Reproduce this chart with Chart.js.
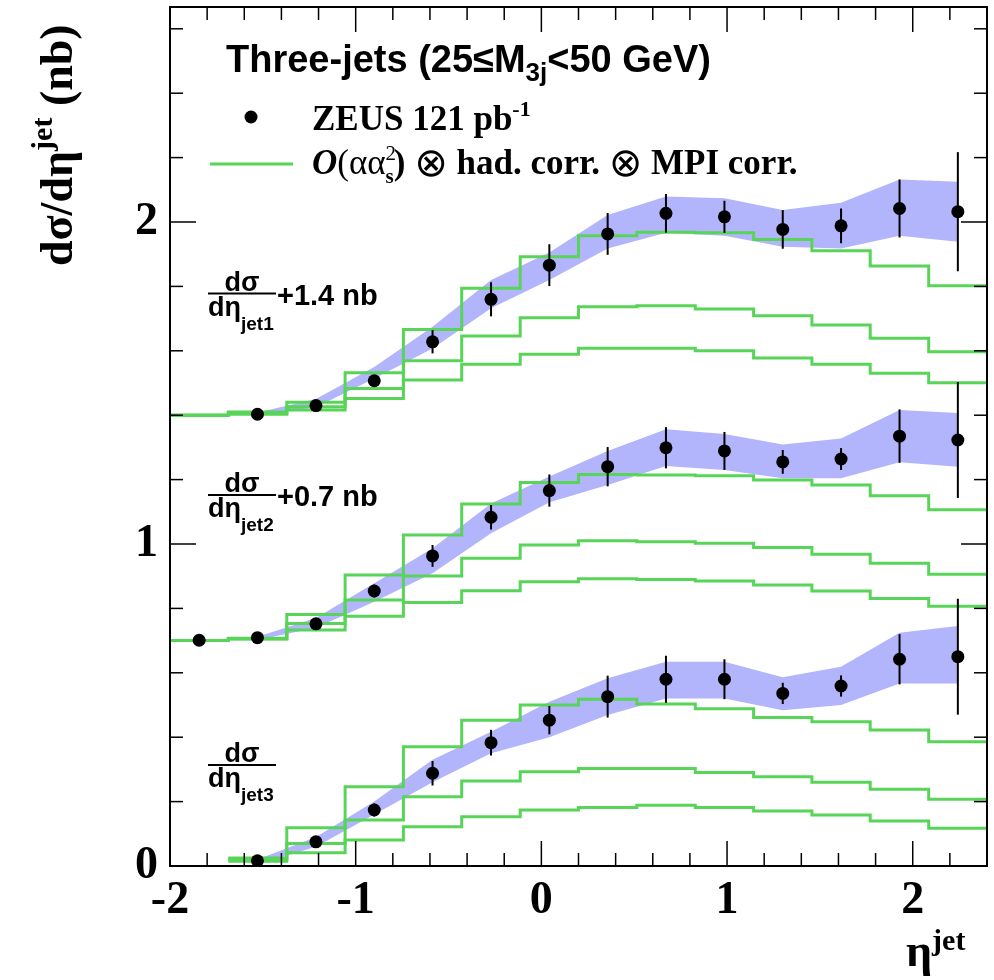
<!DOCTYPE html>
<html>
<head>
<meta charset="utf-8">
<title>Three-jets d&sigma;/d&eta;</title>
<script src="https://cdn.jsdelivr.net/npm/chart.js@4.4.1/dist/chart.umd.min.js"></script>
<style>
  html, body { margin: 0; padding: 0; background: #fff; }
  #wrap { width: 994px; height: 980px; }
</style>
</head>
<body>
<div id="wrap"><canvas id="chart" width="994" height="980"></canvas></div>
<script>
// 14 eta bins between -2 and 2.4
var etaEdges = [-2, -1.686, -1.371, -1.057, -0.743, -0.429, -0.114, 0.2, 0.514, 0.829, 1.143, 1.457, 1.771, 2.086, 2.4];
var etaCentres = [-1.843, -1.529, -1.214, -0.9, -0.586, -0.271, 0.043, 0.357, 0.671, 0.986, 1.3, 1.614, 1.929, 2.243];

var xMajorTicks = [-2, -1, 0, 1, 2];
var xTickLabels = ['-2', '-1', '0', '1', '2'];
var yMajorTicks = [0, 1, 2];
var yTickLabels = ['0', '1', '2'];

// shifts added to each jet before plotting (nb)
var jetOffsets = [1.4, 0.7, 0];

// ZEUS data, without the shift
var jet1Data = [null, 0.003, 0.030, 0.107, 0.228, 0.360, 0.466, 0.563, 0.627, 0.616, 0.577, 0.588, 0.642, 0.632];
var jet1Err  = [null, 0.004, 0.006, 0.012, 0.036, 0.053, 0.065, 0.065, 0.060, 0.050, 0.060, 0.054, 0.090, 0.185];
var jet2Data = [0.001, 0.009, 0.052, 0.154, 0.263, 0.383, 0.466, 0.540, 0.599, 0.589, 0.555, 0.564, 0.635, 0.623];
var jet2Err  = [0.003, 0.004, 0.008, 0.020, 0.034, 0.038, 0.050, 0.061, 0.064, 0.059, 0.037, 0.034, 0.083, 0.180];
var jet3Data = [null, 0.016, 0.075, 0.174, 0.288, 0.383, 0.453, 0.526, 0.580, 0.580, 0.536, 0.559, 0.642, 0.650];
var jet3Err  = [null, 0.003, 0.008, 0.020, 0.038, 0.040, 0.044, 0.065, 0.073, 0.062, 0.033, 0.033, 0.078, 0.180];

// shaded band (upper / lower edge)
var jet1BandHi = [null, 0.008, 0.050, 0.150, 0.275, 0.420, 0.505, 0.622, 0.679, 0.674, 0.637, 0.660, 0.732, 0.725];
var jet1BandLo = [null, 0.001, 0.025, 0.114, 0.207, 0.332, 0.420, 0.518, 0.567, 0.557, 0.523, 0.518, 0.557, 0.539];
var jet2BandHi = [null, 0.012, 0.070, 0.178, 0.287, 0.426, 0.510, 0.589, 0.656, 0.642, 0.609, 0.628, 0.716, 0.707];
var jet2BandLo = [null, 0.002, 0.040, 0.121, 0.209, 0.333, 0.430, 0.483, 0.542, 0.530, 0.504, 0.504, 0.554, 0.540];
var jet3BandHi = [null, 0.020, 0.090, 0.200, 0.330, 0.417, 0.510, 0.583, 0.634, 0.634, 0.586, 0.619, 0.724, 0.745];
var jet3BandLo = [null, 0.005, 0.060, 0.160, 0.260, 0.350, 0.400, 0.469, 0.520, 0.520, 0.484, 0.500, 0.567, 0.567];

// O(alpha alpha_s^2) histograms, three per jet
var jet1Calc  = [0, 0.010, 0.040, 0.132, 0.266, 0.394, 0.492, 0.557, 0.568, 0.567, 0.546, 0.511, 0.463, 0.402];
var jet1CalcB = [0, 0.005, 0.026, 0.083, 0.169, 0.246, 0.303, 0.337, 0.340, 0.330, 0.309, 0.280, 0.239, 0.197];
var jet1CalcC = [0, 0.003, 0.016, 0.052, 0.109, 0.158, 0.189, 0.208, 0.208, 0.200, 0.178, 0.158, 0.130, 0.101];
var jet2Calc  = [0, 0.007, 0.081, 0.204, 0.328, 0.424, 0.491, 0.516, 0.514, 0.512, 0.499, 0.483, 0.450, 0.406];
var jet2CalcB = [0, 0.006, 0.053, 0.126, 0.201, 0.256, 0.297, 0.310, 0.307, 0.302, 0.289, 0.268, 0.240, 0.206];
var jet2CalcC = [0, 0.005, 0.033, 0.076, 0.118, 0.155, 0.183, 0.192, 0.190, 0.185, 0.173, 0.154, 0.131, 0.107];
var jet3Calc  = [null, 0.025, 0.119, 0.246, 0.370, 0.453, 0.500, 0.518, 0.503, 0.488, 0.461, 0.448, 0.422, 0.386];
var jet3CalcB = [null, 0.020, 0.070, 0.143, 0.215, 0.264, 0.293, 0.303, 0.303, 0.290, 0.277, 0.260, 0.238, 0.207];
var jet3CalcC = [null, 0.015, 0.041, 0.081, 0.122, 0.153, 0.174, 0.182, 0.189, 0.182, 0.171, 0.158, 0.140, 0.117];

(function () {
  'use strict';

  var SERIF = "'Liberation Serif', 'DejaVu Serif', serif";
  var SANS = "'Liberation Sans', 'DejaVu Sans', sans-serif";
  var GREEN = 'rgb(88, 212, 88)';
  var BAND = 'rgb(178, 180, 252)';

  var jets = [
    { data: jet1Data, err: jet1Err, hi: jet1BandHi, lo: jet1BandLo, calc: [jet1Calc, jet1CalcB, jet1CalcC] },
    { data: jet2Data, err: jet2Err, hi: jet2BandHi, lo: jet2BandLo, calc: [jet2Calc, jet2CalcB, jet2CalcC] },
    { data: jet3Data, err: jet3Err, hi: jet3BandHi, lo: jet3BandLo, calc: [jet3Calc, jet3CalcB, jet3CalcC] }
  ];

  function atCentres(values, off) {
    var pts = [];
    values.forEach(function (v, i) {
      if (v !== null) {
        pts.push({ x: etaCentres[i], y: v + off });
      }
    });
    return pts;
  }

  // histogram outline: one point per left edge, plus the last right edge
  function histo(values, off) {
    var pts = [];
    var last = null;
    values.forEach(function (v, i) {
      if (v !== null) {
        pts.push({ x: etaEdges[i], y: v + off });
        last = v;
      }
    });
    pts.push({ x: etaEdges[etaEdges.length - 1], y: last + off });
    return pts;
  }

  var datasets = [];
  jets.forEach(function (jet, j) {
    var off = jetOffsets[j];
    datasets.push({
      data: atCentres(jet.hi, off), showLine: true, fill: '+1', tension: 0,
      backgroundColor: BAND, borderColor: 'rgba(0,0,0,0)', borderWidth: 0,
      pointRadius: 0, order: 3, clip: 0
    });
    datasets.push({
      data: atCentres(jet.lo, off), showLine: true, fill: false, tension: 0,
      borderColor: 'rgba(0,0,0,0)', borderWidth: 0, pointRadius: 0, order: 3, clip: 0
    });
  });
  jets.forEach(function (jet, j) {
    jet.calc.forEach(function (values) {
      datasets.push({
        data: histo(values, jetOffsets[j]), showLine: true, stepped: true, fill: false,
        borderColor: GREEN, borderWidth: 3, borderJoinStyle: 'miter', borderCapStyle: 'butt',
        pointRadius: 0, order: 2, clip: 0
      });
    });
  });
  jets.forEach(function (jet, j) {
    datasets.push({
      data: atCentres(jet.data, jetOffsets[j]), showLine: false,
      backgroundColor: '#000', borderWidth: 0, pointRadius: 6.5, order: 1, clip: 0
    });
  });

  function majorLabel(majors, labels) {
    return function (value) {
      for (var i = 0; i < majors.length; i++) {
        if (Math.abs(value - majors[i]) < 1e-6) {
          return labels[i];
        }
      }
      return '';
    };
  }

  function drawRuns(ctx, x, y, parts) {
    parts.forEach(function (p) {
      ctx.font = p.font;
      ctx.fillText(p.text, x, y + (p.dy || 0));
      if (!p.keep) {
        x += ctx.measureText(p.text).width + (p.gap || 0);
      }
    });
    return x;
  }

  function line(ctx, x1, y1, x2, y2) {
    ctx.beginPath();
    ctx.moveTo(x1, y1);
    ctx.lineTo(x2, y2);
    ctx.stroke();
  }

  var errorBars = {
    id: 'errorBars',
    afterDatasetsDraw: function (chart) {
      var ctx = chart.ctx;
      var xs = chart.scales.x;
      var ys = chart.scales.y;
      ctx.save();
      ctx.strokeStyle = '#000';
      ctx.lineWidth = 2;
      jets.forEach(function (jet, j) {
        jet.data.forEach(function (v, i) {
          if (v === null || !jet.err[i]) {
            return;
          }
          var px = xs.getPixelForValue(etaCentres[i]);
          line(ctx, px, ys.getPixelForValue(v + jetOffsets[j] - jet.err[i]),
            px, ys.getPixelForValue(v + jetOffsets[j] + jet.err[i]));
        });
      });
      ctx.restore();
    }
  };

  function fraction(ctx, lineY, jetName, shift) {
    ctx.textAlign = 'center';
    ctx.font = 'bold 27px ' + SANS;
    ctx.fillText('d\u03c3', 242, lineY - 3);
    ctx.textAlign = 'left';
    ctx.lineWidth = 2;
    line(ctx, 208, lineY, 276, lineY);
    drawRuns(ctx, 208, lineY + 22, [
      { text: 'd\u03b7', font: 'bold 27px ' + SANS },
      { text: jetName, font: 'bold 19px ' + SANS, dy: 14 }
    ]);
    if (shift) {
      ctx.font = 'bold 29px ' + SANS;
      ctx.fillText(shift, 277, lineY + 11);
    }
  }

  var decorations = {
    id: 'decorations',
    afterDraw: function (chart) {
      var ctx = chart.ctx;
      var a = chart.chartArea;
      var xs = chart.scales.x;
      var ys = chart.scales.y;
      var k, v, p, len;
      ctx.save();
      ctx.strokeStyle = '#000';
      ctx.fillStyle = '#000';

      // ticks on all four sides, pointing inwards
      ctx.lineWidth = 1.5;
      for (k = -10; k <= 12; k++) {
        v = k / 5;
        p = xs.getPixelForValue(v);
        len = k % 5 === 0 ? 25 : 13;
        line(ctx, p, a.bottom, p, a.bottom - len);
        line(ctx, p, a.top, p, a.top + len);
      }
      for (k = 0; k <= 13; k++) {
        v = k / 5;
        p = ys.getPixelForValue(v);
        len = k % 5 === 0 ? 26 : 13;
        line(ctx, a.left, p, a.left + len, p);
        line(ctx, a.right, p, a.right - len, p);
      }
      ctx.lineWidth = 2;
      ctx.strokeRect(a.left, a.top, a.right - a.left, a.bottom - a.top);

      // title and legend
      ctx.textAlign = 'left';
      ctx.textBaseline = 'alphabetic';
      drawRuns(ctx, 226, 72, [
        { text: 'Three-jets (25\u2264M', font: 'bold 38px ' + SANS },
        { text: '3j', font: 'bold 26px ' + SANS, dy: 9 },
        { text: '<50 GeV)', font: 'bold 38px ' + SANS }
      ]);
      ctx.beginPath();
      ctx.arc(251, 117, 6.5, 0, Math.PI * 2);
      ctx.fill();
      drawRuns(ctx, 312, 130, [
        { text: 'ZEUS 121 pb', font: 'bold 35px ' + SERIF },
        { text: '-1', font: 'bold 22px ' + SERIF, dy: -14 }
      ]);
      ctx.strokeStyle = GREEN;
      ctx.lineWidth = 3;
      line(ctx, 210, 164, 293, 164);
      ctx.strokeStyle = '#000';
      drawRuns(ctx, 312, 174, [
        { text: 'O', font: 'italic bold 35px ' + SERIF },
        { text: '(\u03b1\u03b1', font: '35px ' + SERIF },
        { text: '2', font: '21px ' + SERIF, dy: -14, keep: true },
        { text: 's', font: 'bold 21px ' + SERIF, dy: 9 },
        { text: ') ', font: 'bold 35px ' + SERIF },
        { text: '\u2297', font: "40px 'DejaVu Sans', sans-serif", dy: 2 },
        { text: ' had. corr. ', font: 'bold 35px ' + SERIF },
        { text: '\u2297', font: "40px 'DejaVu Sans', sans-serif", dy: 2 },
        { text: ' MPI corr.', font: 'bold 35px ' + SERIF }
      ]);

      // shift annotations
      fraction(ctx, 293.5, 'jet1', '+1.4 nb');
      fraction(ctx, 495, 'jet2', '+0.7 nb');
      fraction(ctx, 765, 'jet3', null);

      // axis titles
      drawRuns(ctx, 906, 966, [
        { text: '\u03b7', font: 'bold 46px ' + SERIF },
        { text: 'jet', font: 'bold 30px ' + SERIF, dy: -16 }
      ]);
      ctx.save();
      ctx.translate(72, 266);
      ctx.rotate(-Math.PI / 2);
      drawRuns(ctx, 0, 0, [
        { text: 'd\u03c3/d\u03b7', font: 'bold 46px ' + SERIF },
        { text: 'jet', font: 'bold 30px ' + SERIF, dy: -20 },
        { text: ' (nb)', font: 'bold 46px ' + SERIF }
      ]);
      ctx.restore();
      ctx.restore();
    }
  };

  var tickFont = { family: SERIF, size: 46, weight: 'bold' };

  new Chart(document.getElementById('chart'), {
    type: 'scatter',
    data: { datasets: datasets },
    options: {
      responsive: false,
      animation: false,
      devicePixelRatio: 1,
      layout: { padding: { left: 0, right: 7, top: 7, bottom: 0 } },
      plugins: {
        legend: { display: false },
        tooltip: { enabled: false }
      },
      scales: {
        x: {
          type: 'linear', min: -2, max: 2.4,
          grid: { display: false }, border: { display: false },
          ticks: {
            stepSize: 0.2, autoSkip: false, maxRotation: 0, minRotation: 0, padding: 0,
            color: '#000', font: tickFont, callback: majorLabel(xMajorTicks, xTickLabels)
          },
          afterFit: function (s) {
            s.height = 114;
            s.paddingLeft = 0;
            s.paddingRight = 0;
          }
        },
        y: {
          type: 'linear', min: 0, max: 2.6677,
          grid: { display: false }, border: { display: false },
          ticks: {
            stepSize: 0.2, autoSkip: false, padding: 4,
            color: '#000', font: tickFont, callback: majorLabel(yMajorTicks, yTickLabels)
          },
          afterFit: function (s) {
            s.width = 170;
            s.paddingTop = 0;
            s.paddingBottom = 0;
          }
        }
      }
    },
    plugins: [errorBars, decorations]
  });
})();
</script>
</body>
</html>
